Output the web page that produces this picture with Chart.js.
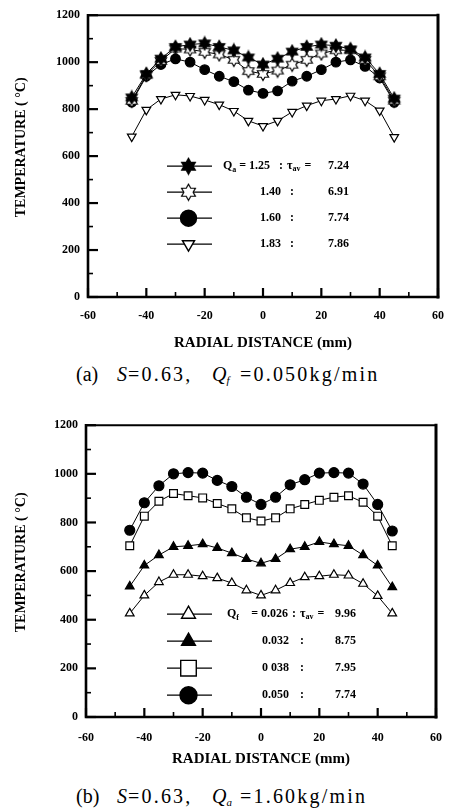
<!DOCTYPE html>
<html><head><meta charset="utf-8">
<script src="https://cdn.jsdelivr.net/npm/chart.js@4/dist/chart.umd.min.js"></script>
<style>
html,body{margin:0;padding:0;background:#fff;}
body{width:456px;height:808px;position:relative;overflow:hidden;}
.wrap{position:absolute;left:0;width:456px;}
.cap{position:absolute;font-family:"Liberation Serif",serif;font-size:20px;color:#000;white-space:nowrap;line-height:22px;}
.cap i{font-style:italic;}
.cap sub{font-size:11px;vertical-align:-3px;}
.sp{letter-spacing:2.2px;}
</style></head>
<body>
<div class="wrap" style="top:0;height:360px;"><canvas id="ca" width="456" height="360"></canvas></div>
<div class="cap" style="top:363px;left:76px;">(a)</div>
<div class="cap" style="top:363px;left:117px;"><i>S</i></div>
<div class="cap sp" style="top:363px;left:128px;">=0.63,</div>
<div class="cap" style="top:363px;left:212px;"><i>Q</i><sub><i>f</i></sub></div>
<div class="cap sp" style="top:363px;left:240px;">=0.050kg/min</div>
<div class="wrap" style="top:410px;height:365px;"><canvas id="cb" width="456" height="365"></canvas></div>
<div class="cap" style="top:785px;left:76px;">(b)</div>
<div class="cap" style="top:785px;left:117px;"><i>S</i></div>
<div class="cap sp" style="top:785px;left:128px;">=0.63,</div>
<div class="cap" style="top:785px;left:212px;"><i>Q</i><sub><i>a</i></sub></div>
<div class="cap sp" style="top:785px;left:240px;">=1.60kg/min</div>
<script>
// ---------- data ----------
const radial = [-45,-40,-35,-30,-25,-20,-15,-10,-5,0,5,10,15,20,25,30,35,40,45];
const xTicks = [-60,-40,-20,0,20,40,60];
const yTicks = [0,200,400,600,800,1000,1200];

// (a) S=0.63, Qf=0.050 kg/min
const qaLabels = ['1.25','1.40','1.60','1.83'];
const tauA = ['7.24','6.91','7.74','7.86'];
const a125 = [850,950,1015,1065,1075,1080,1065,1050,1020,990,1015,1045,1065,1075,1070,1055,1020,950,845];
const a140 = [835,945,1005,1058,1054,1044,1033,1010,962,950,964,989,1010,1037,1051,1051,1010,940,836];
const a160 = [830,940,990,1014,1000,968,940,917,881,867,878,919,940,968,1000,1010,982,933,829];
const a183 = [683,797,843,861,856,839,819,792,750,728,750,788,815,836,843,857,836,794,681];

// (b) S=0.63, Qa=1.60 kg/min
const qfLabels = ['0.026','0.032','0 038','0.050'];
const tauB = ['9.96','8.75','7.95','7.74'];
const b026 = [426,500,555,585,585,579,571,551,521,500,521,551,575,579,585,582,548,498,426];
const b032 = [537,623,666,700,704,711,695,674,650,632,650,690,700,720,711,704,666,623,534];
const b038 = [704,826,887,919,910,901,878,856,819,806,819,856,874,891,904,910,883,826,704];
const b050 = [768,881,951,1000,1005,1003,973,948,904,874,904,955,976,1003,1005,1003,958,874,765];

// ---------- marker images (six-pointed stars) ----------
function hexStar(R, filled){
  const s = Math.ceil(2*R+3), c = document.createElement('canvas');
  c.width = s; c.height = s;
  const g = c.getContext('2d'), cx = s/2, cy = s/2, r = R/Math.sqrt(3);
  g.beginPath();
  for(let i=0;i<12;i++){
    const ang = -Math.PI/2 + i*Math.PI/6, rr = (i%2===0)?R:r;
    const px = cx + rr*Math.cos(ang), py = cy + rr*Math.sin(ang);
    if(i===0) g.moveTo(px,py); else g.lineTo(px,py);
  }
  g.closePath();
  g.fillStyle = filled ? '#000' : '#fff';
  g.fill();
  g.lineWidth = 1.2; g.strokeStyle = '#000'; g.stroke();
  return c;
}
const starFill = hexStar(6.5,true), starOpen = hexStar(6.5,false);
const starFillL = hexStar(8,true), starOpenL = hexStar(8,false);

function ds(data, style, fill, radius, rot, legendStyle, legendR){
  return {
    data: radial.map((x,i)=>({x:x, y:data[i]})),
    borderColor:'#000', borderWidth:1, tension:0,
    pointStyle:style, pointRadius:radius, pointRotation:rot||0,
    pointBackgroundColor: fill ? '#000' : '#fff', pointBorderColor:'#000', pointBorderWidth:1.2,
    legendStyle: legendStyle || style, legendR: legendR
  };
}

const font = {family:'"Liberation Serif", serif', weight:'bold', size:12};

const framePlugin = {
  id:'frame',
  afterDatasetsDraw(chart, args, opts){
    const ctx = chart.ctx, a = chart.chartArea, xs = chart.scales.x, ys = chart.scales.y;
    ctx.save();
    ctx.strokeStyle = '#000';
    // inward ticks
    for(let v=0; v<=1200; v+=100){
      const y = ys.getPixelForValue(v), len = v%200===0 ? 10 : 5;
      ctx.lineWidth = v%200===0 ? 2.2 : 1.6;
      ctx.beginPath(); ctx.moveTo(a.left, y); ctx.lineTo(a.left+len, y); ctx.stroke();
    }
    for(let v=-60; v<=60; v+=10){
      const x = xs.getPixelForValue(v), len = v%20===0 ? 9 : 5;
      ctx.lineWidth = v%20===0 ? 2.2 : 1.6;
      ctx.beginPath(); ctx.moveTo(x, a.bottom); ctx.lineTo(x, a.bottom-len); ctx.stroke();
    }
    // frame
    ctx.lineCap = 'square';
    ctx.lineWidth = 2.6;
    ctx.beginPath(); ctx.moveTo(a.left, a.top); ctx.lineTo(a.left, a.bottom); ctx.lineTo(a.right, a.bottom); ctx.stroke();
    ctx.lineWidth = 3;
    ctx.beginPath(); ctx.moveTo(a.right, a.bottom); ctx.lineTo(a.right, a.top); ctx.stroke();
    ctx.lineWidth = 2;
    ctx.beginPath(); ctx.moveTo(a.left, a.top); ctx.lineTo(a.right, a.top); ctx.stroke();
    ctx.lineCap = 'butt';

    // legend markers
    const L = opts;
    chart.data.datasets.forEach((d,i)=>{
      const y = a.top + L.rows[i];
      ctx.strokeStyle = '#000';
      ctx.lineWidth = 1.3;
      ctx.beginPath(); ctx.moveTo(167, y); ctx.lineTo(212, y); ctx.stroke();
      ctx.fillStyle = d.pointBackgroundColor;
      ctx.lineWidth = 1.4;
      Chart.helpers.drawPoint(ctx, {
        pointStyle: d.legendStyle, radius: d.legendR, rotation: d.pointRotation||0,
        borderWidth: 1.4
      }, 188.5, y);
    });
    ctx.restore();
  },
  afterDraw(chart, args, opts){
    const ctx = chart.ctx, a = chart.chartArea, L = opts;
    ctx.save();
    ctx.fillStyle = '#000';
    ctx.textBaseline = 'middle';
    const f = 'bold 12px "Liberation Serif", serif', fs = 'bold 8px "Liberation Serif", serif';
    L.q.forEach((q,i)=>{
      const y = a.top + L.rows[i];
      ctx.font = f;
      if(i===0){
        ctx.textAlign = 'left';
        ctx.fillText('Q', L.qx, y);
        const w = ctx.measureText('Q').width;
        ctx.font = fs; ctx.fillText(L.sub, L.qx + w, y+4);
        ctx.font = f;
        ctx.textAlign = 'right';
        ctx.fillText('= ' + q, L.numR0, y);
        ctx.textAlign = 'left';
        ctx.fillText(':', L.colon0, y);
        ctx.fillText('\u03C4', L.taux, y);
        const tw = ctx.measureText('\u03C4').width;
        ctx.font = fs; ctx.fillText('av', L.taux + tw, y+3);
        ctx.font = f;
        ctx.fillText('=', L.taux + tw + 12, y);
        ctx.textAlign = 'right';
        ctx.fillText(L.tau[i], L.tauR, y);
      } else {
        ctx.textAlign = 'right';
        ctx.fillText(q, L.numR, y);
        ctx.textAlign = 'left';
        ctx.fillText(':', L.colon, y);
        ctx.textAlign = 'right';
        ctx.fillText(L.tau[i], L.tauR, y);
      }
    });
    ctx.restore();
  }
};

function makeChart(id, datasets, geom, legend){
  return new Chart(document.getElementById(id), {
    type:'line',
    data:{datasets:datasets},
    plugins:[framePlugin],
    options:{
      responsive:false, animation:false, events:[],
      layout:{padding:{left:0, right:geom.padR, top:geom.padT, bottom:0}},
      plugins:{legend:{display:false}, tooltip:{enabled:false}, frame:legend},
      scales:{
        x:{type:'linear', min:-60, max:60,
          afterBuildTicks:(s)=>{ s.ticks = xTicks.map(v=>({value:v})); },
          afterFit:(s)=>{ s.height = geom.xH; },
          grid:{display:false, drawTicks:false}, border:{display:false},
          ticks:{font:font, color:'#000', padding:geom.xPad, maxRotation:0, autoSkip:false,
            callback:(v)=>String(v)},
          title:{display:true, text:'RADIAL DISTANCE (mm)', color:'#000',
            font:{family:'"Liberation Serif", serif', weight:'bold', size:15}, padding:{top:0,bottom:geom.xTitlePad}}
        },
        y:{type:'linear', min:0, max:1200,
          afterBuildTicks:(s)=>{ s.ticks = yTicks.map(v=>({value:v})); },
          afterFit:(s)=>{ s.width = geom.yW; },
          grid:{display:false, drawTicks:false}, border:{display:false},
          ticks:{font:font, color:'#000', padding:8, callback:(v)=>String(v)},
          title:{display:true, text:'     TEMPERATURE ( \u00B0C)', color:'#000',
            font:{family:'"Liberation Serif", serif', weight:'bold', size:14}, padding:{top:13,bottom:0}}
        }
      }
    }
  });
}

makeChart('ca', [
  ds(a125, starFill, true, 6, 0, starFillL, 8),
  ds(a140, starOpen, false, 6, 0, starOpenL, 8),
  ds(a160, 'circle', true, 4.8, 0, 'circle', 8),
  ds(a183, 'triangle', false, 5, 180, 'triangle', 7)
], {padR:5, padT:10, xH:63, yW:88, xPad:12, xTitlePad:8},
{rows:[151,177,203,229], q:qaLabels, tau:tauA, sub:'a', qx:223, numR0:270, colon0:279, taux:287, tauR:349, numR:281, colon:290});

makeChart('cb', [
  ds(b026, 'triangle', false, 5, 0, 'triangle', 8),
  ds(b032, 'triangle', true, 5, 0, 'triangle', 8),
  ds(b038, 'rect', false, 5.5, 0, 'rect', 11),
  ds(b050, 'circle', true, 5, 0, 'circle', 8.5)
], {padR:4, padT:13, xH:58, yW:86, xPad:14, xTitlePad:7},
{rows:[189,216,243,270], q:qfLabels, tau:tauB, sub:'f', qx:227, numR0:288, colon0:292, taux:300, tauR:356, numR:289, colon:300});
</script>
</body></html>
